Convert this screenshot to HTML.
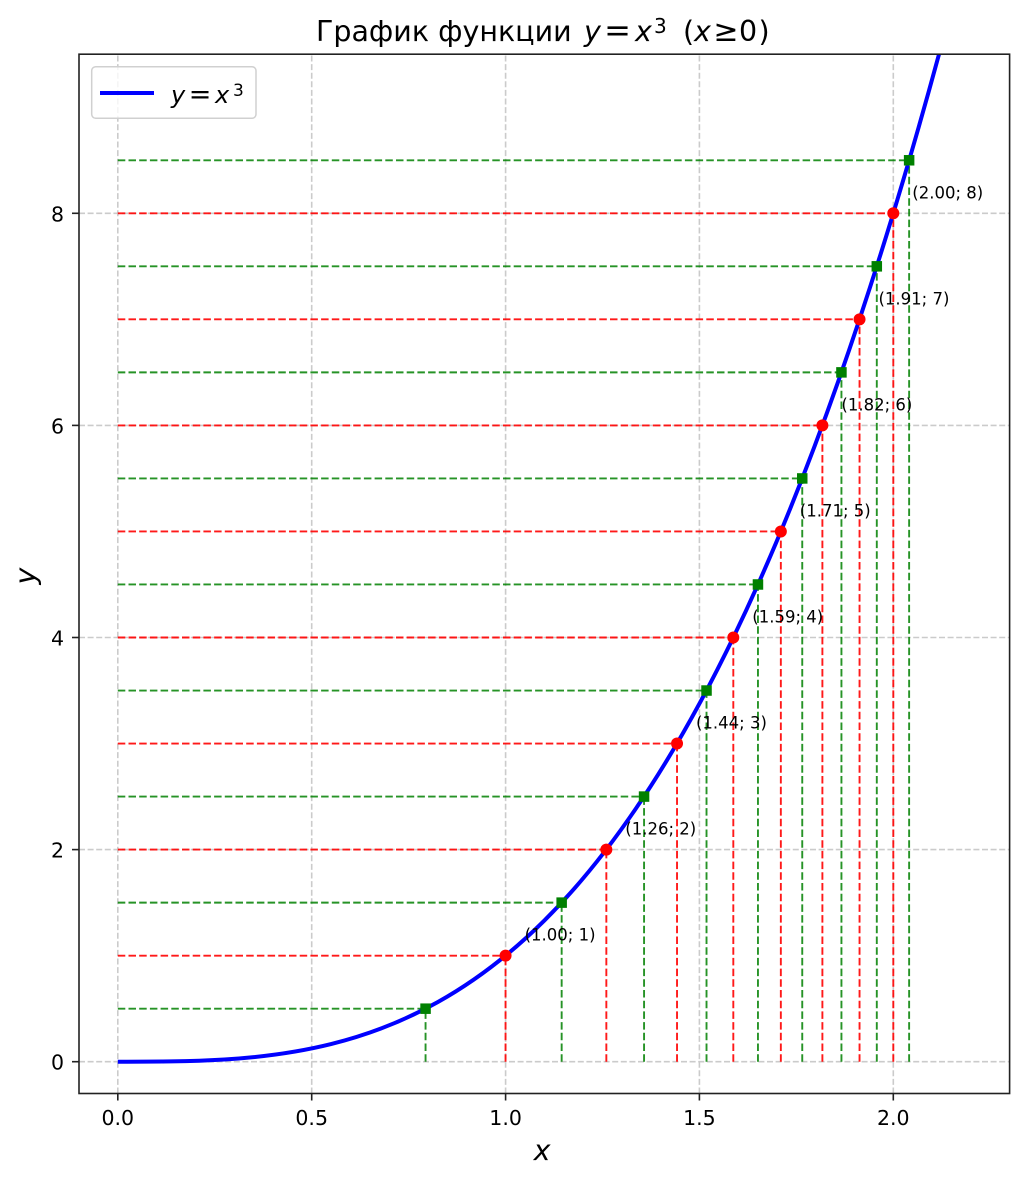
<!DOCTYPE html>
<html>
<head>
<meta charset="utf-8">
<style>
  html, body { margin: 0; padding: 0; background: #fff; }
  svg { display: block; }
  text { font-family: "DejaVu Sans", "Liberation Sans", sans-serif; fill: #000; }
  .it { font-style: italic; }
</style>
</head>
<body>
<svg width="1024" height="1180" viewBox="0 0 1024 1180" xmlns="http://www.w3.org/2000/svg">
  <defs>
    <clipPath id="ax">
      <rect x="79" y="54.2" width="930.6" height="1039.3"/>
    </clipPath>
  </defs>
  <rect x="0" y="0" width="1024" height="1180" fill="#fff"/>

  <!-- Title -->
  <text x="316" y="41" font-size="28.5">График функции</text>
  <text x="584" y="41" font-size="28.5" class="it">y</text>
  <text x="617.5" y="41" font-size="32" text-anchor="middle">=</text>
  <text x="635" y="41" font-size="28.5" class="it">x</text>
  <text x="654" y="33" font-size="20">3</text>
  <text x="683" y="41" font-size="28.5">(</text>
  <text x="694" y="41" font-size="28.5" class="it">x</text>
  <text x="726" y="41" font-size="30" text-anchor="middle">≥</text>
  <text x="739" y="41" font-size="28.5">0</text>
  <text x="758.5" y="41" font-size="28.5">)</text>

  <!-- Grid -->
  <g stroke="#cbcbcb" stroke-width="1.6" stroke-dasharray="6 2.6" fill="none">
    <line x1="117.8" y1="1093.5" x2="117.8" y2="54.2"/>
    <line x1="311.7" y1="1093.5" x2="311.7" y2="54.2"/>
    <line x1="505.6" y1="1093.5" x2="505.6" y2="54.2"/>
    <line x1="699.4" y1="1093.5" x2="699.4" y2="54.2"/>
    <line x1="893.3" y1="1093.5" x2="893.3" y2="54.2"/>
    <line x1="79" y1="1061.7" x2="1009.6" y2="1061.7"/>
    <line x1="79" y1="849.6" x2="1009.6" y2="849.6"/>
    <line x1="79" y1="637.5" x2="1009.6" y2="637.5"/>
    <line x1="79" y1="425.4" x2="1009.6" y2="425.4"/>
    <line x1="79" y1="213.3" x2="1009.6" y2="213.3"/>
  </g>

  <g clip-path="url(#ax)">
    <!-- Red dashed lines -->
    <g stroke="#ff0000" stroke-opacity="0.9" stroke-width="1.9" stroke-dasharray="7.5 3.2" fill="none">
      <line x1="117.8" y1="955.65" x2="505.55" y2="955.65"/>
      <line x1="505.55" y1="1061.7" x2="505.55" y2="955.65"/>
      <line x1="117.8" y1="849.6" x2="606.34" y2="849.6"/>
      <line x1="606.34" y1="1061.7" x2="606.34" y2="849.6"/>
      <line x1="117.8" y1="743.55" x2="677.03" y2="743.55"/>
      <line x1="677.03" y1="1061.7" x2="677.03" y2="743.55"/>
      <line x1="117.8" y1="637.5" x2="733.31" y2="637.5"/>
      <line x1="733.31" y1="1061.7" x2="733.31" y2="637.5"/>
      <line x1="117.8" y1="531.45" x2="780.84" y2="531.45"/>
      <line x1="780.84" y1="1061.7" x2="780.84" y2="531.45"/>
      <line x1="117.8" y1="425.4" x2="822.39" y2="425.4"/>
      <line x1="822.39" y1="1061.7" x2="822.39" y2="425.4"/>
      <line x1="117.8" y1="319.35" x2="859.54" y2="319.35"/>
      <line x1="859.54" y1="1061.7" x2="859.54" y2="319.35"/>
      <line x1="117.8" y1="213.3" x2="893.3" y2="213.3"/>
      <line x1="893.3" y1="1061.7" x2="893.3" y2="213.3"/>
    </g>
    <!-- Green dashed lines -->
    <g stroke="#008000" stroke-opacity="0.85" stroke-width="1.9" stroke-dasharray="7.5 3.2" fill="none">
      <line x1="117.8" y1="1008.68" x2="425.56" y2="1008.68"/>
      <line x1="425.56" y1="1061.7" x2="425.56" y2="1008.68"/>
      <line x1="117.8" y1="902.63" x2="561.66" y2="902.63"/>
      <line x1="561.66" y1="1061.7" x2="561.66" y2="902.63"/>
      <line x1="117.8" y1="796.58" x2="644.06" y2="796.58"/>
      <line x1="644.06" y1="1061.7" x2="644.06" y2="796.58"/>
      <line x1="117.8" y1="690.53" x2="706.52" y2="690.53"/>
      <line x1="706.52" y1="1061.7" x2="706.52" y2="690.53"/>
      <line x1="117.8" y1="584.48" x2="757.96" y2="584.48"/>
      <line x1="757.96" y1="1061.7" x2="757.96" y2="584.48"/>
      <line x1="117.8" y1="478.43" x2="802.25" y2="478.43"/>
      <line x1="802.25" y1="1061.7" x2="802.25" y2="478.43"/>
      <line x1="117.8" y1="372.38" x2="841.44" y2="372.38"/>
      <line x1="841.44" y1="1061.7" x2="841.44" y2="372.38"/>
      <line x1="117.8" y1="266.33" x2="876.8" y2="266.33"/>
      <line x1="876.8" y1="1061.7" x2="876.8" y2="266.33"/>
      <line x1="117.8" y1="160.28" x2="909.13" y2="160.28"/>
      <line x1="909.13" y1="1061.7" x2="909.13" y2="160.28"/>
    </g>

    <!-- Curve y = x^3 (exact cubic Bezier) -->
    <path d="M117.8,1061.7 C402.15,1061.7 686.5,1061.7 970.85,-67.52" stroke="#0000ff" stroke-width="4" fill="none"/>

    <!-- Red points -->
    <g fill="#ff0000">
      <circle cx="505.55" cy="955.65" r="6"/>
      <circle cx="606.34" cy="849.6" r="6"/>
      <circle cx="677.03" cy="743.55" r="6"/>
      <circle cx="733.31" cy="637.5" r="6"/>
      <circle cx="780.84" cy="531.45" r="6"/>
      <circle cx="822.39" cy="425.4" r="6"/>
      <circle cx="859.54" cy="319.35" r="6"/>
      <circle cx="893.3" cy="213.3" r="6"/>
    </g>
    <!-- Green squares -->
    <g fill="#008000">
      <rect x="420.31" y="1003.43" width="10.5" height="10.5"/>
      <rect x="556.41" y="897.38" width="10.5" height="10.5"/>
      <rect x="638.81" y="791.33" width="10.5" height="10.5"/>
      <rect x="701.27" y="685.28" width="10.5" height="10.5"/>
      <rect x="752.71" y="579.23" width="10.5" height="10.5"/>
      <rect x="797.0" y="473.18" width="10.5" height="10.5"/>
      <rect x="836.19" y="367.13" width="10.5" height="10.5"/>
      <rect x="871.55" y="261.08" width="10.5" height="10.5"/>
      <rect x="903.88" y="155.03" width="10.5" height="10.5"/>
    </g>

    <!-- Annotations -->
    <g font-size="16.5">
      <text x="524.6" y="940.7">(1.00; 1)</text>
      <text x="625.3" y="834.6">(1.26; 2)</text>
      <text x="696.0" y="728.6">(1.44; 3)</text>
      <text x="752.3" y="622.5">(1.59; 4)</text>
      <text x="799.8" y="516.5">(1.71; 5)</text>
      <text x="841.4" y="410.4">(1.82; 6)</text>
      <text x="878.5" y="304.4">(1.91; 7)</text>
      <text x="912.3" y="198.3">(2.00; 8)</text>
    </g>
  </g>

  <!-- Axes frame -->
  <rect x="79" y="54.2" width="930.6" height="1039.3" fill="none" stroke="#222" stroke-width="1.6"/>

  <!-- Ticks -->
  <g stroke="#222" stroke-width="1.6">
    <line x1="117.8" y1="1093.5" x2="117.8" y2="1100.5"/>
    <line x1="311.7" y1="1093.5" x2="311.7" y2="1100.5"/>
    <line x1="505.6" y1="1093.5" x2="505.6" y2="1100.5"/>
    <line x1="699.4" y1="1093.5" x2="699.4" y2="1100.5"/>
    <line x1="893.3" y1="1093.5" x2="893.3" y2="1100.5"/>
    <line x1="72" y1="1061.7" x2="79" y2="1061.7"/>
    <line x1="72" y1="849.6" x2="79" y2="849.6"/>
    <line x1="72" y1="637.5" x2="79" y2="637.5"/>
    <line x1="72" y1="425.4" x2="79" y2="425.4"/>
    <line x1="72" y1="213.3" x2="79" y2="213.3"/>
  </g>
  <g font-size="20.5" text-anchor="middle">
    <text x="117.8" y="1125">0.0</text>
    <text x="311.7" y="1125">0.5</text>
    <text x="505.6" y="1125">1.0</text>
    <text x="699.4" y="1125">1.5</text>
    <text x="893.3" y="1125">2.0</text>
  </g>
  <g font-size="20.5" text-anchor="end">
    <text x="64" y="1069.7">0</text>
    <text x="64" y="857.6">2</text>
    <text x="64" y="645.5">4</text>
    <text x="64" y="433.4">6</text>
    <text x="64" y="221.3">8</text>
  </g>

  <!-- Axis labels -->
  <text x="542" y="1160" font-size="28.5" class="it" text-anchor="middle">x</text>
  <text x="0" y="0" font-size="28.5" class="it" text-anchor="middle" transform="translate(35,576) rotate(-90)">y</text>

  <!-- Legend -->
  <rect x="91.7" y="66.7" width="164.3" height="51.6" rx="4" ry="4" fill="#fff" fill-opacity="0.8" stroke="#d0d0d0" stroke-width="1.5"/>
  <line x1="100" y1="93" x2="154" y2="93" stroke="#0000ff" stroke-width="4"/>
  <text x="171" y="103" font-size="24" class="it">y</text>
  <text x="200" y="103" font-size="27" text-anchor="middle">=</text>
  <text x="215" y="103" font-size="24" class="it">x</text>
  <text x="233" y="96" font-size="17">3</text>
</svg>
</body>
</html>
